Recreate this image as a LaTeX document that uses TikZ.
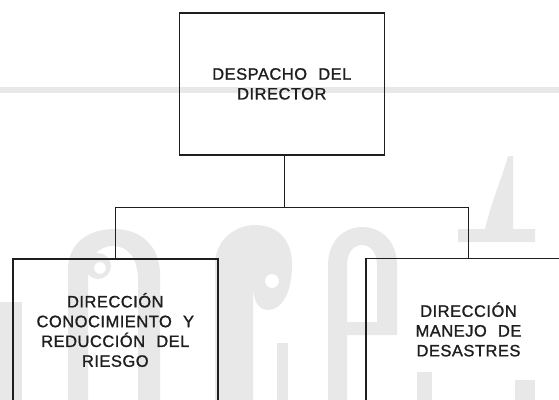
\documentclass[tikz,border=0pt]{standalone}
\usepackage{fontspec}
\setmainfont{Liberation Sans}[WordSpace=2.2,LetterSpace=3,FakeBold=1.2]
\definecolor{wm}{HTML}{E8E8E8}
\definecolor{ink}{HTML}{1E1E1E}
\begin{document}
\begin{tikzpicture}[x=1pt,y=-1pt,
  orgbox/.style={draw=ink, line width=1.4pt, minimum width=205pt, minimum height=142pt,
    inner sep=0pt, align=center, text=ink, font=\fontsize{16.5}{19.8}\selectfont},
  link/.style={draw=ink, line width=1.4pt}]
\useasboundingbox (0,0) rectangle (559,399);
\fill[white] (0,0) rectangle (559,399);
% watermark
\fill[wm] (0,87) rectangle (559,93);
\fill[wm] (0,302) rectangle (21.7,405);
\fill[wm,even odd rule] (68,405) -- (68,270) .. controls (68,242) and (90,229) .. (114,229) .. controls (140,229) and (160,245) .. (160,275) -- (160,405) -- cycle
  (88,405) -- (88,275) .. controls (88,256) and (100,246) .. (113,246) .. controls (128,246) and (138,258) .. (138,280) -- (138,405) -- cycle;
\fill[wm,even odd rule] (98,266) circle[radius=13pt] (100,268) circle[radius=6pt];
\fill[wm,even odd rule] (215,405) -- (215,265) .. controls (215,240) and (235,225) .. (255,225) .. controls (278,225) and (292,240) .. (292,265) .. controls (292,292) and (282,310) .. (268,310) .. controls (258,310) and (253,300) .. (253,285) -- (253,405) -- cycle
  (272,281) circle[radius=7pt];
\fill[wm] (277,343) rectangle (288,405);
\fill[wm,even odd rule] (328,405) -- (328,265) .. controls (328,240) and (345,227) .. (362,227) .. controls (382,227) and (397,242) .. (397,265) -- (397,335) -- (347,335) -- (347,405) -- cycle
  (347,322) -- (347,265) .. controls (347,252) and (354,245) .. (362,245) .. controls (370,245) and (377,252) .. (377,265) -- (377,322) -- cycle;
\fill[wm] (417,372) rectangle (432,405);
\fill[wm] (508,156) -- (513,156) -- (513,229) -- (535,229) -- (535,242) -- (458,242) -- (458,229) -- (485,229) .. controls (492,200) and (503,175) .. (508,156) -- cycle;
\fill[wm] (515,380) rectangle (535,405);
% chart
\node[orgbox] (dir) at (281.8,83.9) {DESPACHO DEL\\DIRECTOR};
\node[orgbox] (left) at (115.3,330) {DIRECCIÓN\\CONOCIMIENTO Y\\REDUCCIÓN DEL\\RIESGO};
\node[orgbox] (right) at (468.5,329.5) {DIRECCIÓN\\MANEJO DE\\DESASTRES};
\coordinate (j) at (284.5,207.5);
\draw[link] (dir.south -| j) -- (j);
\draw[link] (j) -| (left.north);
\draw[link] (j) -| (right.north);
\end{tikzpicture}
\end{document}
